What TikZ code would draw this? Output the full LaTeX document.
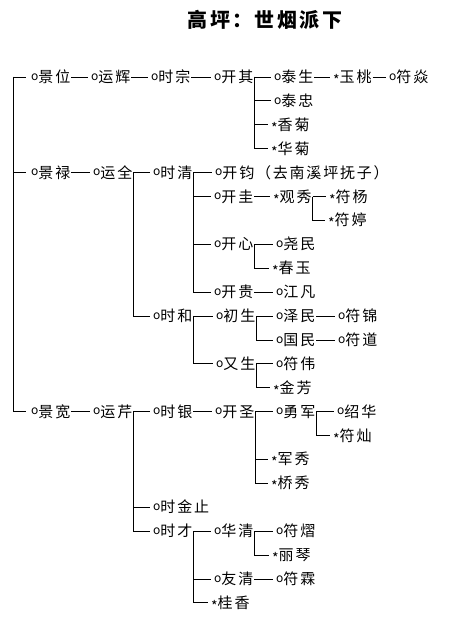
\documentclass[tikz,border=0pt]{standalone}
\usepackage{fontspec}
\newfontfamily\cjk[LetterSpace=12]{Noto Sans CJK SC}
\newcommand\mkO{{\fontsize{12}{12}\selectfont\raisebox{2.2pt}{o}}}
\newcommand\mkS{{\fontsize{14}{14}\selectfont\raisebox{-3pt}{*}}}
\tikzset{
  nm/.style={anchor=west, inner xsep=1pt, inner ysep=0pt,
    font=\cjk\fontsize{15}{18}\selectfont, text height=13pt, text depth=2pt},
  ln/.style={line width=0.8pt, shorten >=2pt},
}
\begin{document}
\begin{tikzpicture}[x=1pt,y=-23.9pt]
\path[use as bounding box] (0pt,0pt) rectangle (474pt,-623pt);
\node[font=\cjk\bfseries\fontsize{20}{24}\selectfont, inner sep=0pt] (title) at (265pt,-20pt) {高坪：世烟派下};
\begin{scope}[yshift=-77pt]
\coordinate (root) at (13,0);
% row 1
\node[nm] (jw) at (30,0) {\mkO{}景位};
\node[nm] (yh) at (90,0) {\mkO{}运辉};
\node[nm] (szong) at (150,0) {\mkO{}时宗};
\node[nm] (kq) at (213,0) {\mkO{}开其};
\node[nm] (ts) at (273,0) {\mkO{}泰生};
\node[nm] (yt) at (332,0) {\mkS{}玉桃};
\node[nm] (fyan) at (388,0) {\mkO{}符焱};
\node[nm] (tz) at (273,1) {\mkO{}泰忠};
\node[nm] (xj) at (270,2) {\mkS{}香菊};
\node[nm] (hj) at (270,3) {\mkS{}华菊};
% 景禄
\node[nm] (jl) at (30,4) {\mkO{}景禄};
\node[nm] (yq) at (92,4) {\mkO{}运全};
\node[nm] (sq) at (152,4) {\mkO{}时清};
\node[nm] (kj) at (214,4) {\mkO{}开钧（去南溪坪抚子）};
\node[nm] (kg) at (213,5) {\mkO{}开圭};
\node[nm] (gxiu) at (272,5) {\mkS{}观秀};
\node[nm] (fyang) at (328,5) {\mkS{}符杨};
\node[nm] (fting) at (327,6) {\mkS{}符婷};
\node[nm] (kx) at (213,7) {\mkO{}开心};
\node[nm] (ym) at (275,7) {\mkO{}尧民};
\node[nm] (cy) at (271,8) {\mkS{}春玉};
\node[nm] (kgui) at (213,9) {\mkO{}开贵};
\node[nm] (jf) at (275,9) {\mkO{}江凡};
\node[nm] (sh) at (152,10) {\mkO{}时和};
\node[nm] (cs) at (215,10) {\mkO{}初生};
\node[nm] (zm) at (275,10) {\mkO{}泽民};
\node[nm] (fj) at (337,10) {\mkO{}符锦};
\node[nm] (gm) at (275,11) {\mkO{}国民};
\node[nm] (fd) at (337,11) {\mkO{}符道};
\node[nm] (ys) at (215,12) {\mkO{}又生};
\node[nm] (fw) at (275,12) {\mkO{}符伟};
\node[nm] (jfang) at (272,13) {\mkS{}金芳};
% 景宽
\node[nm] (jk) at (30,14) {\mkO{}景宽};
\node[nm] (yqin) at (92,14) {\mkO{}运芹};
\node[nm] (sy) at (152,14) {\mkO{}时银};
\node[nm] (ksh) at (214,14) {\mkO{}开圣};
\node[nm] (yj) at (275,14) {\mkO{}勇军};
\node[nm] (shh) at (336,14) {\mkO{}绍华};
\node[nm] (fc) at (332,15) {\mkS{}符灿};
\node[nm] (jx) at (270,16) {\mkS{}军秀};
\node[nm] (qx) at (270,17) {\mkS{}桥秀};
\node[nm] (sjz) at (152,18) {\mkO{}时金止};
\node[nm] (sc) at (152,19) {\mkO{}时才};
\node[nm] (hq) at (213,19) {\mkO{}华清};
\node[nm] (fy) at (275,19) {\mkO{}符熠};
\node[nm] (lq) at (271,20) {\mkS{}丽琴};
\node[nm] (yqg) at (213,21) {\mkO{}友清};
\node[nm] (fl) at (275,21) {\mkO{}符霖};
\node[nm] (gx) at (210,22) {\mkS{}桂香};
% connectors
\draw[ln,shorten >=4pt] (root) -- (jw.west);
\draw[ln,shorten >=4pt] (root) |- (jl.west);
\draw[ln,shorten >=4pt] (root) |- (jk.west);
\foreach \a/\b in {jw/yh, yh/szong, szong/kq, kq/ts, kq/tz, kq/xj, kq/hj, ts/yt, yt/fyan,
  jl/yq, yq/sq, yq/sh, sq/kj, sq/kg, sq/kx, sq/kgui, kg/gxiu, gxiu/fyang, gxiu/fting,
  kx/ym, kx/cy, kgui/jf, sh/cs, sh/ys, cs/zm, cs/gm, zm/fj, gm/fd, ys/fw, ys/jfang,
  jk/yqin, yqin/sy, yqin/sjz, yqin/sc, sy/ksh, ksh/yj, ksh/jx, ksh/qx, yj/shh, yj/fc,
  sc/hq, sc/yqg, sc/gx, hq/fy, hq/lq, yqg/fl}
  \draw[ln] (\a.east) |- (\b.west);
\end{scope}
\end{tikzpicture}
\end{document}
